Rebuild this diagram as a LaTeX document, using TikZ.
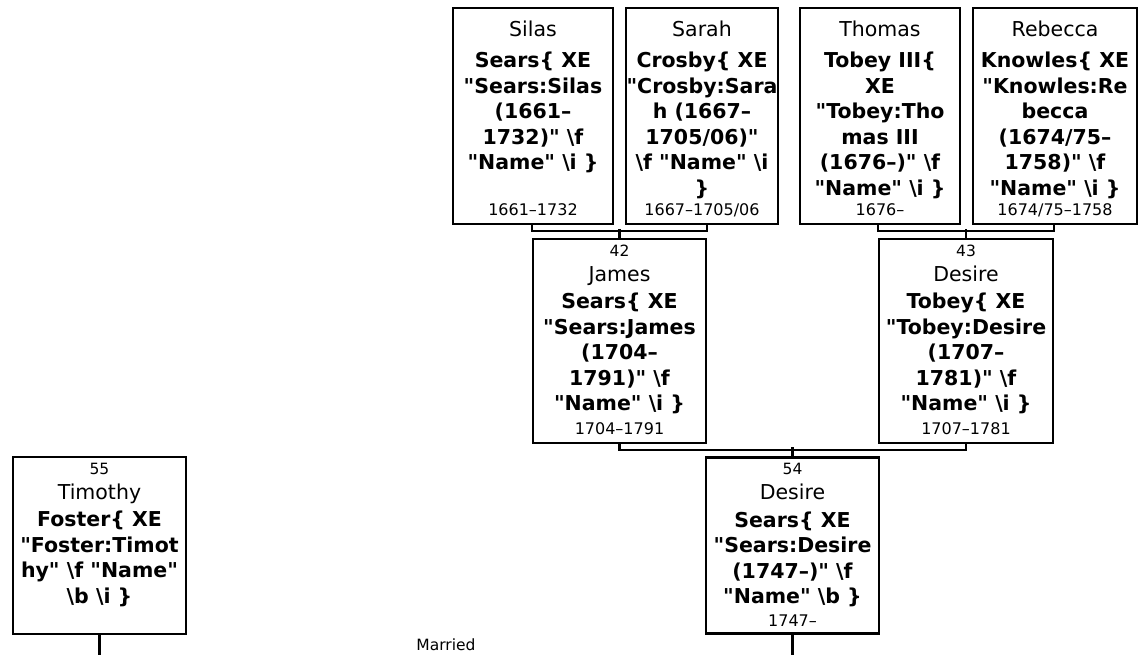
\documentclass[tikz,border=0pt]{standalone}
\usepackage{fontspec}
\setmainfont{DejaVu Sans}[Ligatures=TeXOff]
\newcommand{\bksl}{\textbackslash}

\begin{document}
\begin{tikzpicture}[x=1pt, y=-1pt,
  pbox/.style={rectangle, draw, line width=2.3pt, inner sep=0pt},
  nm/.style={anchor=base, inner sep=0pt, font=\fontsize{20.5}{25}\selectfont},
  bd/.style={anchor=north, align=center, inner sep=0pt, font=\fontsize{20.5}{25.5}\selectfont\bfseries},
  dt/.style={anchor=base, inner sep=0pt, font=\fontsize{16}{18}\selectfont},
  num/.style={anchor=base, inner sep=0pt, font=\fontsize{15.5}{18}\selectfont},
  link/.style={line width=2.3pt}
]
  \useasboundingbox (0,0) rectangle (1140,654);

  % grandparents
  \node[pbox, minimum width=160pt, minimum height=216pt] (silas) at (533,116) {};
  \node[pbox, minimum width=152pt, minimum height=216pt] (sarah) at (702,116) {};
  \node[pbox, minimum width=160pt, minimum height=216pt] (thomas) at (880,116) {};
  \node[pbox, minimum width=164pt, minimum height=216pt] (rebecca) at (1055,116) {};
  % parents
  \node[pbox, minimum width=173pt, minimum height=204pt] (james) at (619.5,341) {};
  \node[pbox, minimum width=174pt, minimum height=204pt] (tobey) at (966,341) {};
  % couple
  \node[pbox, minimum width=173pt, minimum height=176pt] (desire) at (792.5,545.5) {};
  \node[pbox, minimum width=173pt, minimum height=177pt] (timothy) at (99.5,545.5) {};

  \node[nm, yshift=-29.5pt] (silas-nm) at (silas.north) {Silas};
  \node[bd, yshift=-45pt] (silas-bd) at (silas.north) {Sears\{ XE\\"Sears:Silas\\(1661–\\1732)" \bksl f\\"Name" \bksl i \}};
  \node[dt, yshift=10pt] (silas-dt) at (silas.south) {1661–1732};

  \node[nm, yshift=-29.5pt] (sarah-nm) at (sarah.north) {Sarah};
  \node[bd, yshift=-45pt] (sarah-bd) at (sarah.north) {Crosby\{ XE\\"Crosby:Sara\\h (1667–\\1705/06)"\\\bksl f "Name" \bksl i\\\}};
  \node[dt, yshift=10pt] (sarah-dt) at (sarah.south) {1667–1705/06};

  \node[nm, yshift=-29.5pt] (thomas-nm) at (thomas.north) {Thomas};
  \node[bd, yshift=-45pt] (thomas-bd) at (thomas.north) {Tobey III\{\\XE\\"Tobey:Tho\\mas III\\(1676–)" \bksl f\\"Name" \bksl i \}};
  \node[dt, yshift=10pt] (thomas-dt) at (thomas.south) {1676–};

  \node[nm, yshift=-29.5pt] (rebecca-nm) at (rebecca.north) {Rebecca};
  \node[bd, yshift=-45pt] (rebecca-bd) at (rebecca.north) {Knowles\{ XE\\"Knowles:Re\\becca\\(1674/75–\\1758)" \bksl f\\"Name" \bksl i \}};
  \node[dt, yshift=10pt] (rebecca-dt) at (rebecca.south) {1674/75–1758};

  \node[num, yshift=-18.6pt] (james-no) at (james.north) {42};
  \node[nm, yshift=-43.5pt] (james-nm) at (james.north) {James};
  \node[bd, yshift=-55pt] (james-bd) at (james.north) {Sears\{ XE\\"Sears:James\\(1704–\\1791)" \bksl f\\"Name" \bksl i \}};
  \node[dt, yshift=10pt] (james-dt) at (james.south) {1704–1791};

  \node[num, yshift=-18.6pt] (tobey-no) at (tobey.north) {43};
  \node[nm, yshift=-43.5pt] (tobey-nm) at (tobey.north) {Desire};
  \node[bd, yshift=-55pt] (tobey-bd) at (tobey.north) {Tobey\{ XE\\"Tobey:Desire\\(1707–\\1781)" \bksl f\\"Name" \bksl i \}};
  \node[dt, yshift=10pt] (tobey-dt) at (tobey.south) {1707–1781};

  \node[num, yshift=-18.6pt] (desire-no) at (desire.north) {54};
  \node[nm, yshift=-43.5pt] (desire-nm) at (desire.north) {Desire};
  \node[bd, yshift=-55pt] (desire-bd) at (desire.north) {Sears\{ XE\\"Sears:Desire\\(1747–)" \bksl f\\"Name" \bksl b \}};
  \node[dt, yshift=8pt] (desire-dt) at (desire.south) {1747–};

  \node[num, yshift=-18.6pt] (timothy-no) at (timothy.north) {55};
  \node[nm, yshift=-43.5pt] (timothy-nm) at (timothy.north) {Timothy};
  \node[bd, yshift=-55pt] (timothy-bd) at (timothy.north) {Foster\{ XE\\"Foster:Timot\\hy" \bksl f "Name"\\\bksl b \bksl i \}};

  \node[dt, anchor=center, font=\fontsize{15.5}{18}\selectfont] (married) at (446,645) {Married};

  % family lines
  \draw[link] (silas.south -| james.west) -- ++(0,6) -| (sarah.south -| james.east);
  \draw[link] (james.north) -- ++(0,-9);
  \draw[link] (thomas.south -| tobey.west) -- ++(0,6) -| (rebecca.south -| tobey.east);
  \draw[link] (tobey.north) -- ++(0,-9);
  \draw[link] (james.south) -- ++(0,6) -| (tobey.south);
  \draw[link] (desire.north) -- ++(0,-9);
  \draw[link] (timothy.south) -- ++(0,20);
  \draw[link] (desire.south) -- ++(0,21);
\end{tikzpicture}
\end{document}
